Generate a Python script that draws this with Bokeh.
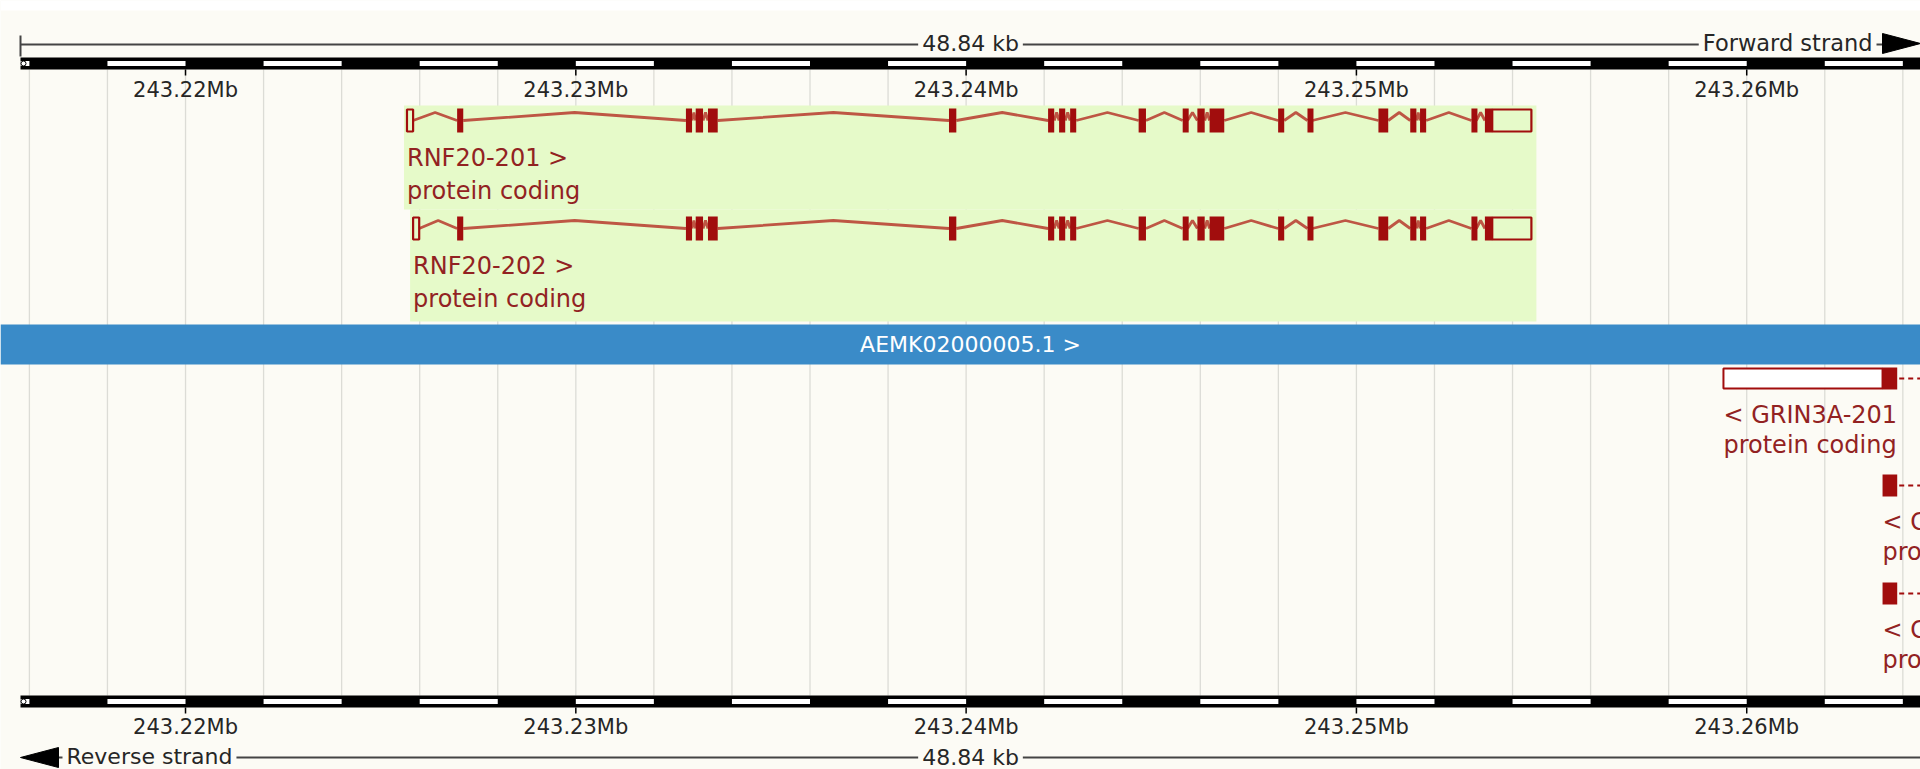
import numpy as np
from bokeh.plotting import figure
from bokeh.models import Range1d
from bokeh.core.properties import value
from bokeh.embed import file_html
from bokeh.resources import INLINE

# ---------------- data ----------------
REGION_START = 243215772          # bp
REGION_LENGTH_KB = 48.84
REGION_LABEL = "48.84 kb"
TICKS = [243220000, 243230000, 243240000, 243250000, 243260000]
TICK_LABELS = ["243.22Mb", "243.23Mb", "243.24Mb", "243.25Mb", "243.26Mb"]
SEGMENT_BP = 2000

CONTIG_LABEL = "AEMK02000005.1 >"

# RNF20 transcripts (forward strand): non-coding (UTR) exons and coding exons
RNF20_201_UTR_STARTS = [243225674, 243253480]
RNF20_201_UTR_ENDS = [243225831, 243254483]
RNF20_201_CDS_STARTS = [243226959, 243232821, 243233072, 243233386, 243239561, 243242100,
                        243242382, 243242665, 243244420, 243245549, 243245925, 243246238,
                        243247994, 243248746, 243250564, 243251379, 243251630, 243252947,
                        243253292]
RNF20_201_CDS_ENDS = [243227116, 243232978, 243233260, 243233636, 243239749, 243242257,
                      243242539, 243242821, 243244608, 243245674, 243246113, 243246614,
                      243248150, 243248871, 243250815, 243251536, 243251787, 243253072,
                      243253480]

RNF20_202_UTR_STARTS = [243225831, 243253480]
RNF20_202_UTR_ENDS = [243225987, 243254483]
RNF20_202_CDS_STARTS = [243226959, 243232821, 243233072, 243233386, 243239561, 243242100,
                        243242382, 243242665, 243244420, 243245549, 243245925, 243246238,
                        243247994, 243248746, 243250564, 243251379, 243251630, 243252947,
                        243253292]
RNF20_202_CDS_ENDS = [243227116, 243232978, 243233260, 243233636, 243239749, 243242257,
                      243242539, 243242821, 243244608, 243245674, 243246113, 243246614,
                      243248150, 243248871, 243250815, 243251536, 243251787, 243253072,
                      243253480]

RNF20_NAMES = ["RNF20-201 >", "RNF20-202 >"]
RNF20_BIOTYPE = ["protein coding", "protein coding"]

# GRIN3A transcripts (reverse strand), continuing beyond the right edge
# (only the beginning of the 2nd and 3rd labels is visible in the view)
GRIN3A_NAMES = ["< GRIN3A-201", "< G", "< G"]
GRIN3A_BIOTYPE = ["protein coding", "pro", "pro"]
GRIN3A_UTR_STARTS = [243259404, None, None]
GRIN3A_UTR_ENDS = [243263480, None, None]
GRIN3A_CDS_STARTS = [243263480, 243263480, 243263480]
GRIN3A_CDS_ENDS = [243263856, 243263856, 243263856]

# ---------------- style / layout ----------------
W, H = 1920, 769
BP_PER_PX = 1000 / 39.03
XL = REGION_START - 20 * BP_PER_PX
XR = XL + W * BP_PER_PX

BG = "#FCFBF5"
GRID = "#DCDCD6"
TXT = "#262626"
RED = "#A10D0D"
INTRON = "#BE5644"
LABEL_RED = "#922222"
GREEN = "#E6FAC9"
BLUE = "#3A8BC8"
FONT = value("DejaVu Sans")

p = figure(width=W, height=H, x_range=Range1d(XL, XR), y_range=Range1d(H, 0),
           output_backend="svg", toolbar_location=None, x_axis_type=None, y_axis_type=None,
           min_border=0, background_fill_color=BG, border_fill_color=BG,
           outline_line_color=None)

# white page strip at the top
p.quad(left=[XL], right=[XR], top=[0], bottom=[10], fill_color="white", line_color=None)

TOP_BAR = (57, 69)
BOT_BAR = (695, 707)

# vertical grid lines every 2 kb
grid_x = np.arange(np.ceil(XL / SEGMENT_BP) * SEGMENT_BP, XR, SEGMENT_BP)
p.segment(x0=grid_x, x1=grid_x, y0=TOP_BAR[1], y1=BOT_BAR[0], line_color=GRID, line_width=1.3)

# top ruler line (drawn before the scale bar so that the bar stays on top)
arrow_w = 38 * BP_PER_PX
p.segment(x0=[REGION_START], x1=[XR - arrow_w], y0=[44], y1=[44], line_color="#444444", line_width=2)
p.segment(x0=[REGION_START], x1=[REGION_START], y0=[35], y1=[56], line_color="#444444", line_width=2)
p.patch(x=[XR - arrow_w, XR - arrow_w, XR], y=[33, 53, 43], fill_color="black", line_color="black")
p.text(x=[(REGION_START + XR) / 2], y=[43], text=[REGION_LABEL], text_font=FONT,
       text_font_size="22px", text_color=TXT, text_align="center", text_baseline="middle",
       background_fill_color=BG, padding=4)
p.text(x=[XR - arrow_w - 6 * BP_PER_PX], y=[42], text=["Forward strand"], text_font=FONT,
       text_font_size="22.5px", text_color=TXT, text_align="right", text_baseline="middle",
       background_fill_color=BG, padding=4)

# bottom ruler line
p.segment(x0=[REGION_START + arrow_w], x1=[XR], y0=[757], y1=[757], line_color="#444444", line_width=2)
p.patch(x=[REGION_START, REGION_START + arrow_w, REGION_START + arrow_w], y=[757, 747, 767],
        fill_color="black", line_color="black")
p.text(x=[(REGION_START + XR) / 2], y=[757], text=[REGION_LABEL], text_font=FONT,
       text_font_size="22px", text_color=TXT, text_align="center", text_baseline="middle",
       background_fill_color=BG, padding=4)
p.text(x=[REGION_START + arrow_w + 4 * BP_PER_PX], y=[756], text=["Reverse strand"], text_font=FONT,
       text_font_size="22px", text_color=TXT, text_align="left", text_baseline="middle",
       background_fill_color=BG, padding=4)


def scale_bar(y_top, y_bot):
    p.quad(left=[REGION_START], right=[XR], top=[y_top], bottom=[y_bot],
           fill_color="black", line_color=None)
    starts = np.arange(np.floor(REGION_START / SEGMENT_BP) * SEGMENT_BP, XR, SEGMENT_BP)
    white = [s for s in starts if int(round(s / SEGMENT_BP)) % 2 == 1]
    left = [max(s, REGION_START) for s in white]
    right = [min(s + SEGMENT_BP, XR) for s in white]
    p.quad(left=left, right=right, top=y_top + 3.5, bottom=y_bot - 3.5,
           fill_color="white", line_color=None)
    p.scatter(x=[REGION_START + 3 * BP_PER_PX], y=[(y_top + y_bot) / 2], size=5,
              fill_color="white", line_color="black", line_width=1)
    p.segment(x0=TICKS, x1=TICKS, y0=y_bot, y1=y_bot + 6, line_color="black", line_width=1.5)


scale_bar(*TOP_BAR)
scale_bar(*BOT_BAR)

p.text(x=TICKS, y=[89] * len(TICKS), text=TICK_LABELS, text_font=FONT, text_font_size="21px",
       text_color=TXT, text_align="center", text_baseline="middle")
p.text(x=TICKS, y=[726] * len(TICKS), text=TICK_LABELS, text_font=FONT, text_font_size="21px",
       text_color=TXT, text_align="center", text_baseline="middle")


def transcript(utr_s, utr_e, cds_s, cds_e, yc, name, biotype, box_top, box_bot):
    exons = sorted([(s, e, "utr") for s, e in zip(utr_s, utr_e)] +
                   [(s, e, "cds") for s, e in zip(cds_s, cds_e)])
    t_start, t_end = exons[0][0], exons[-1][1]
    p.quad(left=[t_start - 3 * BP_PER_PX], right=[t_end + 5 * BP_PER_PX], top=[box_top],
           bottom=[box_bot], fill_color=GREEN, line_color=None)
    xs, ys = [], []
    for (s0, e0, _), (s1, e1, _) in zip(exons[:-1], exons[1:]):
        if s1 > e0:
            xs.append([e0, (e0 + s1) / 2, s1])
            ys.append([yc, yc - 8, yc])
    p.multi_line(xs=xs, ys=ys, line_color=INTRON, line_width=2.8)
    cds = [x for x in exons if x[2] == "cds"]
    utr = [x for x in exons if x[2] == "utr"]
    p.quad(left=[u[0] for u in utr], right=[u[1] for u in utr], top=yc - 11, bottom=yc + 11,
           fill_color=None, line_color=RED, line_width=2.2)
    p.quad(left=[c[0] for c in cds], right=[max(c[1], c[0] + 6 * BP_PER_PX) for c in cds],
           top=yc - 12, bottom=yc + 12, fill_color=RED, line_color=None)
    p.text(x=[t_start, t_start], y=[yc + 37, yc + 70], text=[name, biotype], text_font=FONT,
           text_font_size="24px", text_color=LABEL_RED, text_align="left", text_baseline="middle")


transcript(RNF20_201_UTR_STARTS, RNF20_201_UTR_ENDS, RNF20_201_CDS_STARTS, RNF20_201_CDS_ENDS,
           120, RNF20_NAMES[0], RNF20_BIOTYPE[0], 105, 209)
transcript(RNF20_202_UTR_STARTS, RNF20_202_UTR_ENDS, RNF20_202_CDS_STARTS, RNF20_202_CDS_ENDS,
           228, RNF20_NAMES[1], RNF20_BIOTYPE[1], 209, 321)

# contig
p.quad(left=[XL], right=[XR], top=[324], bottom=[364], fill_color=BLUE, line_color=None)
p.text(x=[(REGION_START + XR) / 2], y=[344], text=[CONTIG_LABEL], text_font=FONT,
       text_font_size="22px", text_color="white", text_align="center", text_baseline="middle")

# reverse-strand transcripts
for i, yc in enumerate([378, 485, 593]):
    cs, ce = GRIN3A_CDS_STARTS[i], GRIN3A_CDS_ENDS[i]
    p.segment(x0=[ce + 2 * BP_PER_PX], x1=[XR], y0=[yc], y1=[yc], line_color=RED, line_width=2,
              line_dash="5 4")
    if GRIN3A_UTR_STARTS[i] is not None:
        p.quad(left=[GRIN3A_UTR_STARTS[i]], right=[GRIN3A_UTR_ENDS[i]], top=[yc - 10],
               bottom=[yc + 10], fill_color="white", line_color=RED, line_width=2)
        t_start = GRIN3A_UTR_STARTS[i]
    else:
        t_start = cs
    p.quad(left=[cs], right=[ce], top=[yc - 11], bottom=[yc + 11], fill_color=RED, line_color=None)
    p.text(x=[t_start, t_start], y=[yc + 36, yc + 66], text=[GRIN3A_NAMES[i], GRIN3A_BIOTYPE[i]],
           text_font=FONT, text_font_size="24px", text_color=LABEL_RED, text_align="left",
           text_baseline="middle")

open("out.html", "w").write(file_html(p, INLINE))
